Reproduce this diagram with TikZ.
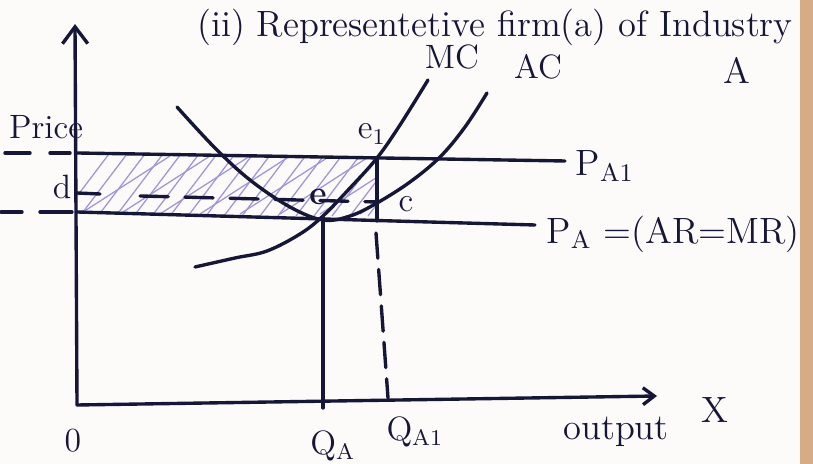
\documentclass[tikz,border=0pt]{standalone}
\usetikzlibrary{arrows.meta}
\definecolor{ink}{RGB}{22,22,55}
\definecolor{hatchc}{RGB}{160,150,215}
\definecolor{paper}{RGB}{253,250,250}
\definecolor{edgec}{RGB}{214,172,135}
\begin{document}
\begin{tikzpicture}[x=0.0125cm,y=-0.0125cm,
  pen/.style={draw=ink,line width=1.2pt,line cap=round,line join=round},
  hatchline/.style={draw=hatchc,line width=0.45pt},
  lbl/.style={text=ink,font=\fontsize{12}{14}\selectfont,inner sep=0pt},
  biglbl/.style={text=ink,font=\fontsize{13}{15}\selectfont,inner sep=0pt}]
\fill[paper] (0,0) rectangle (813,464);
\useasboundingbox (0,0) rectangle (813,464);
\fill[edgec] (800,0) rectangle (813,464);

% key points
\coordinate (O) at (77,405);
\coordinate (Ytop) at (75,24);
\coordinate (Xend) at (657,396);
\coordinate (PAoneL) at (77,153);
\coordinate (PAoneR) at (565,161);
\coordinate (PAL) at (77,212);
\coordinate (PAR) at (535,225);
\coordinate (E) at (323,218);
\coordinate (Eone) at (377,158);
\coordinate (C) at (377,202);
\coordinate (QA) at (323,408);
\coordinate (QAoneTop) at (377,221);
\coordinate (QAone) at (388,398);
\coordinate (Dpt) at (77,193);
\coordinate (Dend) at (100,194);

% hatching of the profit area
\begin{scope}
  \clip (78,153) -- (377,158) -- (377,220.5) -- (78,212) -- cycle;
  \foreach \i in {0,...,18} \draw[hatchline] (62+\i*18,216) -- ++(50,-66);
  \foreach \i in {0,...,7} \draw[hatchline] (80+\i*40,214) -- ++(90,-58);
\end{scope}

% axes
\draw[pen,-{Straight Barb[length=6pt,width=9pt,line width=1.2pt]}] (O) -- (Ytop);
\draw[pen,-{Straight Barb[length=4pt,width=6pt,line width=1.2pt]}] (O) -- (Xend);

% price lines
\draw[pen] (PAoneL) -- (PAoneR);
\draw[pen] (PAL) -- (PAR);

% d line and dashed line to c
\draw[pen] (Dpt) -- (Dend);
\draw[pen,dash pattern=on 10pt off 6pt] (Dend) ++(40,2) -- (C);

% AC curve
\draw[pen] plot[smooth,tension=0.6] coordinates {(177,107) (215,148) (250,180) (290,207) (323,220) (350,216) (377,203) (410,182) (440,157) (465,127) (487,93)};
% MC curve
\draw[pen] plot[smooth,tension=0.6] coordinates {(195,267) (235,258) (267,251) (300,234) (323,216) (350,188) (377,158) (400,125) (428,80)};

% verticals
\draw[pen] (E) -- (QA);
\draw[pen] (Eone) -- (QAoneTop);
\draw[pen,dash pattern=on 9pt off 4pt] (376,233) -- (QAone);

% left-of-axis marks
\draw[pen] (5,153) -- (30,153);
\draw[pen] (50,153) -- (70,153);
\draw[pen] (1,212) -- (22,212);
\draw[pen] (40,212) -- (72,212);

% labels
\node[biglbl] (title) at (495,27) {(ii) Representetive firm(a) of Industry};
\node[biglbl] (tA) at (737,70) {A};
\node[lbl] (mc) at (452,57) {MC};
\node[lbl] (ac) at (538,67) {AC};
\node[lbl] (price) at (46,127) {Price};
\node[lbl] (dl) at (62,187) {d};
\node[lbl] (el) at (318,197) {\textbf{e}};
\node[lbl] (eonel) at (372,134) {e$_1$};
\node[lbl] (cl) at (406,204) {c};
\node[biglbl] (pa1) at (605,166) {P$_{\mathrm{A1}}$};
\node[biglbl,anchor=west] (pa) at (546,234) {P$_{\mathrm{A}}$ =(AR=MR)};
\node[lbl] (ol) at (73,441) {0};
\node[lbl] (qal) at (333,446) {Q$_{\mathrm{A}}$};
\node[lbl] (qa1l) at (415,432) {Q$_{\mathrm{A1}}$};
\node[biglbl] (outl) at (616,432) {output};
\node[biglbl] (xl) at (715,410) {X};
\end{tikzpicture}
\end{document}
